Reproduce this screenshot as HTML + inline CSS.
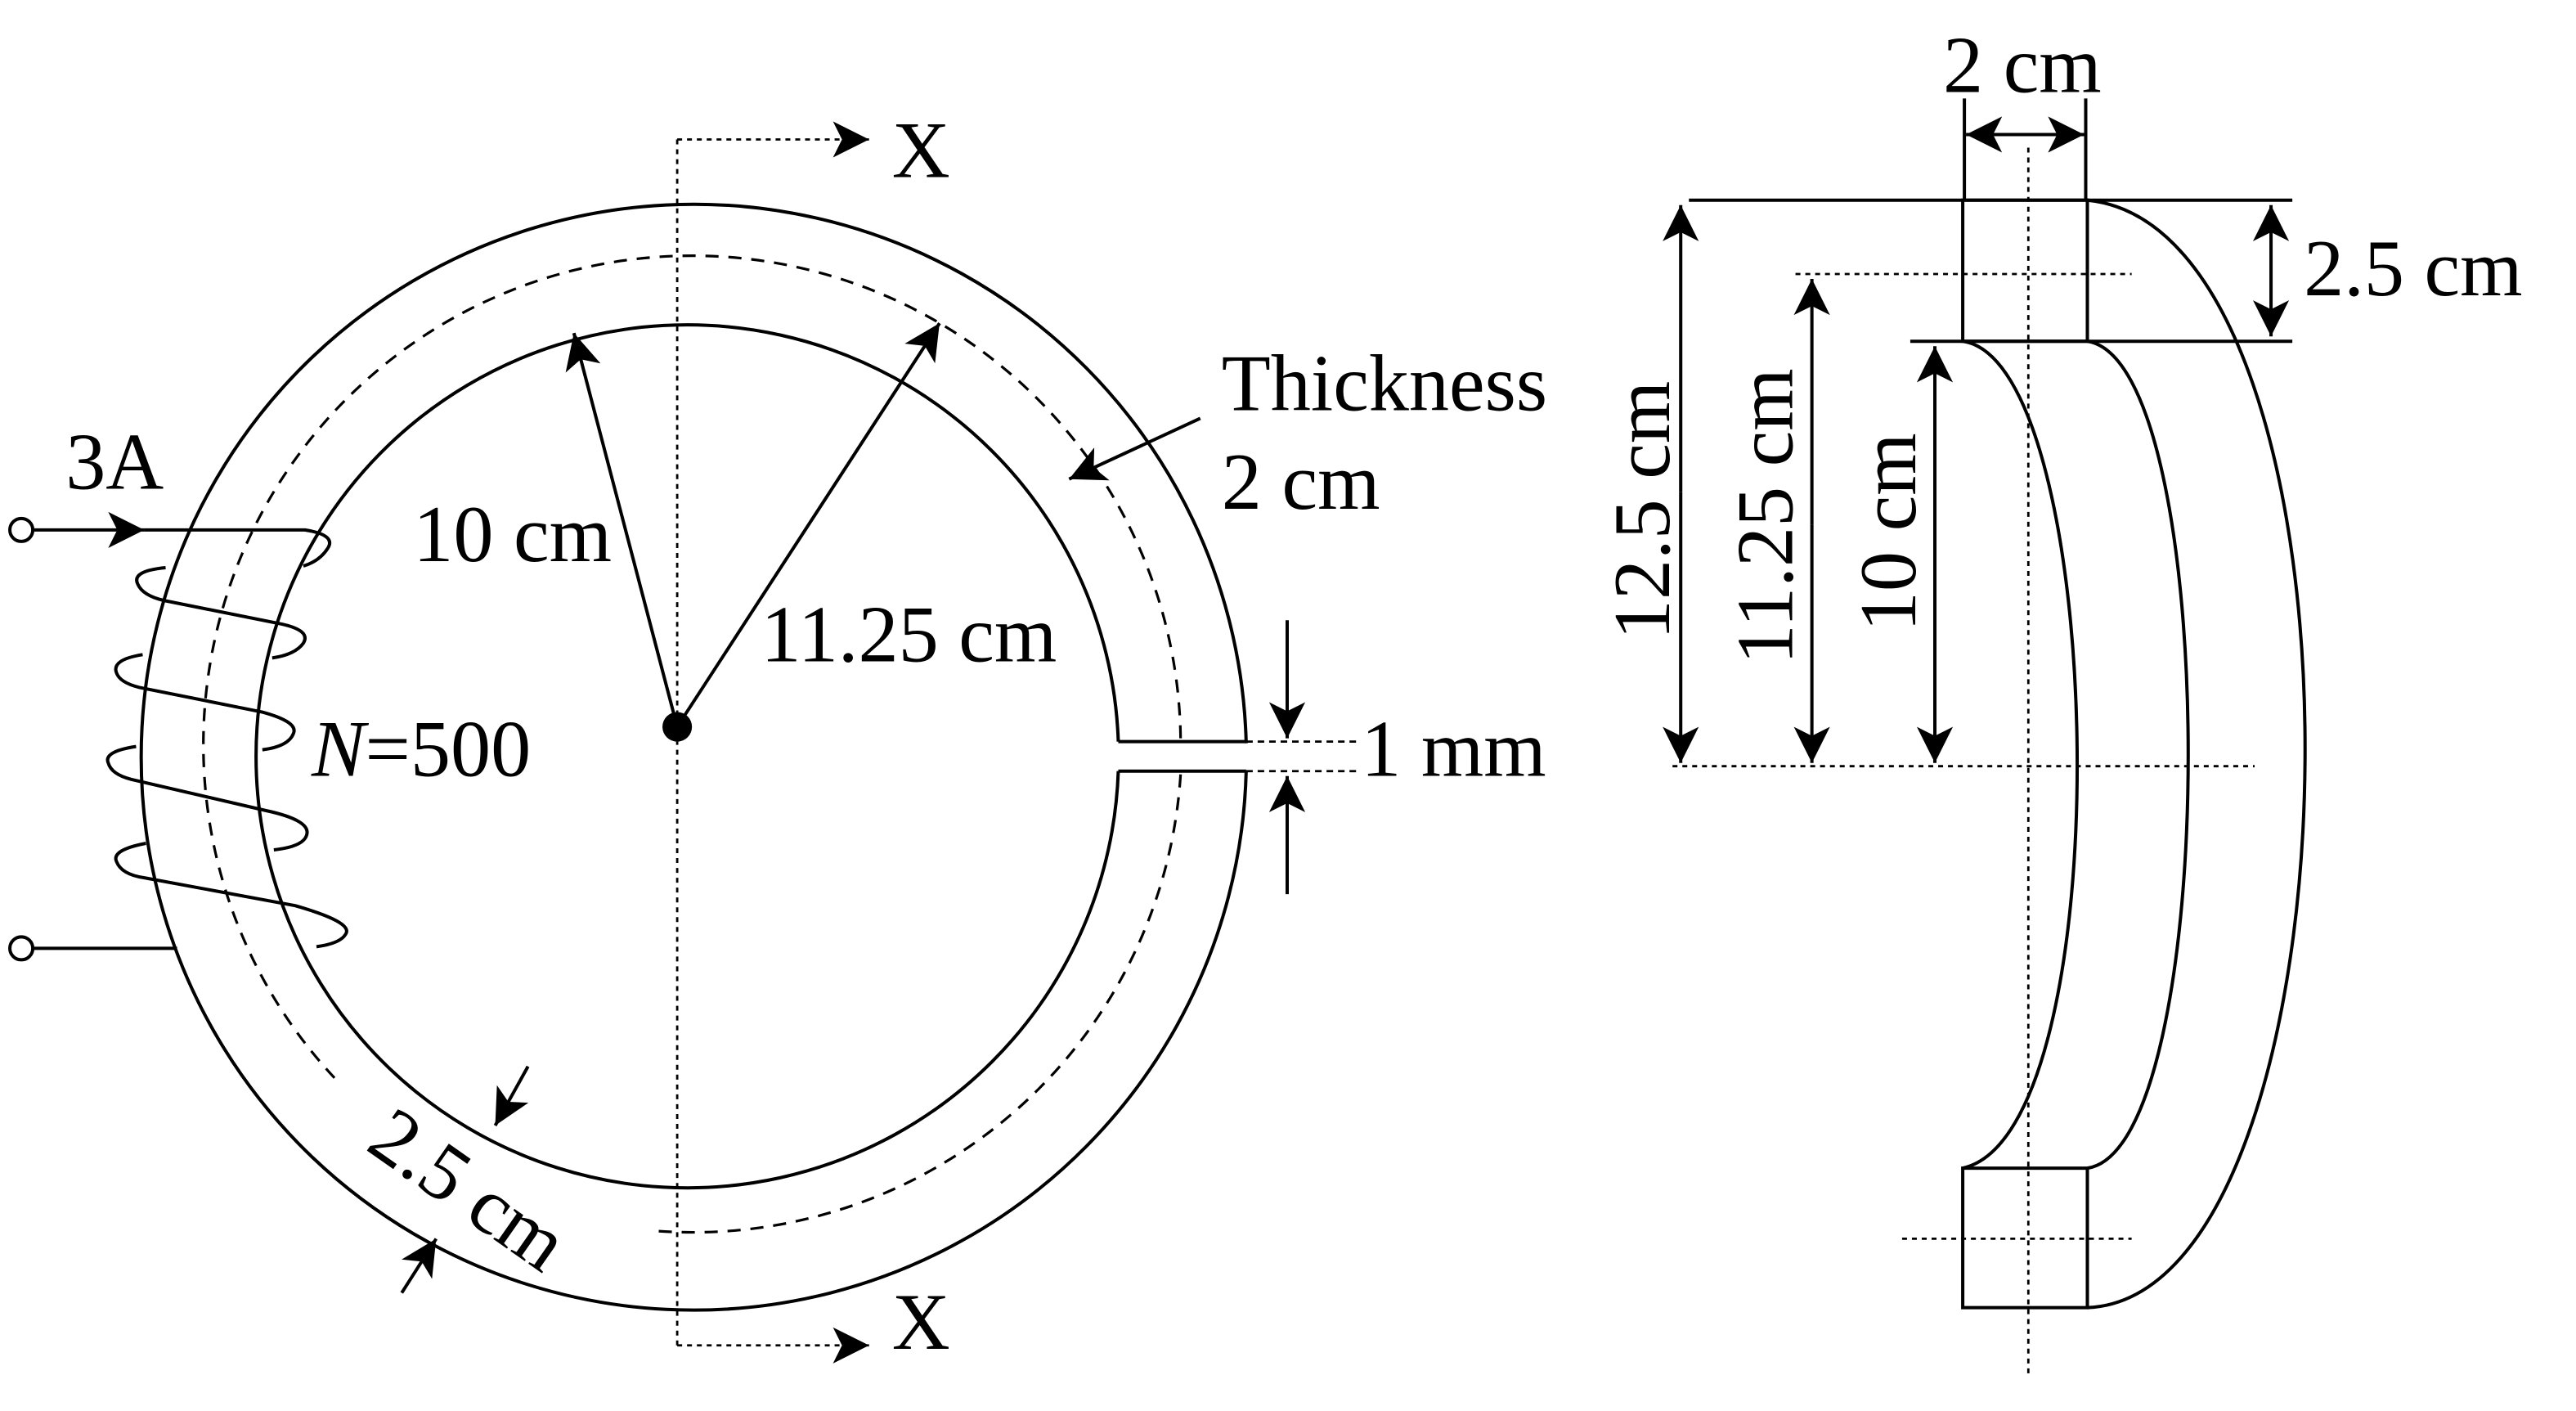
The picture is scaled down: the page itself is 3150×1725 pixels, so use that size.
<!DOCTYPE html>
<html><head><meta charset="utf-8"><style>
html,body{margin:0;padding:0;background:#fff}
svg{display:block}
text{font-family:"Liberation Serif",serif;fill:#000}
</style></head><body>
<svg width="3150" height="1725" viewBox="0 0 1571 860" preserveAspectRatio="none" xmlns="http://www.w3.org/2000/svg">
<defs>
<marker id="ah" viewBox="0 0 10 10" refX="10" refY="5" markerWidth="22" markerHeight="22" markerUnits="userSpaceOnUse" orient="auto-start-reverse"><path d="M0,0 L10,5 L0,10 L2.5,5 z" fill="#000"/></marker>
</defs>
<g fill="none" stroke="#000" stroke-width="2">
<path d="M760,453 A337,337 0 1 0 760,470" />
<path d="M682,452 A263,263 0 1 0 682,470" />
<line x1="682" y1="452" x2="760" y2="452"/><line x1="682" y1="470" x2="760" y2="470"/>
<path stroke-dasharray="8,6" stroke-width="1.6" d="M720,450 A298,298 0 1 0 204,657"/>
<path stroke-dasharray="8,6" stroke-width="1.6" d="M720,472 A298,298 0 0 1 397,750"/>
<line stroke-dasharray="3,3" stroke-width="1.4" x1="413" y1="85" x2="413" y2="820"/>
<polyline stroke-dasharray="3,3" stroke-width="1.4" points="413,85 530,85" marker-end="url(#ah)"/>
<polyline stroke-dasharray="3,3" stroke-width="1.4" points="413,820 530,820" marker-end="url(#ah)"/>
<line x1="413" y1="443" x2="350" y2="203" marker-end="url(#ah)"/>
<line x1="413" y1="443" x2="573" y2="197" marker-end="url(#ah)"/>
<line x1="732" y1="255" x2="652" y2="292" marker-end="url(#ah)"/>
<line x1="785" y1="378" x2="785" y2="450" marker-end="url(#ah)"/>
<line x1="785" y1="545" x2="785" y2="473" marker-end="url(#ah)"/>
<line stroke-dasharray="4,3" stroke-width="1.4" x1="760" y1="452" x2="828" y2="452"/>
<line stroke-dasharray="4,3" stroke-width="1.4" x1="760" y1="470" x2="828" y2="470"/>
<line x1="322" y1="650" x2="302" y2="686" marker-end="url(#ah)"/>
<line x1="245" y1="788" x2="266" y2="755" marker-end="url(#ah)"/>
<circle cx="13" cy="323" r="7" fill="#fff"/>
<line x1="20" y1="323" x2="88" y2="323" marker-end="url(#ah)"/>
<path d="M88,323 L186,323 Q205,326 200,334 Q195,342 185,345"/>
<circle cx="13" cy="578" r="7" fill="#fff"/>
<line x1="20" y1="578" x2="108" y2="578"/>
<path d="M101,346 Q80,348 84,356 Q87,363 100,366 L170,380 Q190,384 185,392 Q180,399 166,401 M87,399 Q68,402 71,410 Q73,416 85,419 L160,434 Q182,440 179,447 Q176,455 160,457 M83,455 Q63,458 66,465 Q68,472 80,475 L162,494 Q190,500 187,509 Q185,516 167,518 M89,514 Q68,518 71,525 Q74,533 88,535 L180,552 Q215,562 211,569 Q208,575 193,577"/>
<circle cx="413" cy="443" r="9" fill="#000" stroke="none"/>
</g>
<g fill="none" stroke="#000" stroke-width="2">
<line stroke-dasharray="3,3" stroke-width="1.4" x1="1237" y1="90" x2="1237" y2="840"/>
<rect x="1197" y="122" width="76" height="86"/>
<rect x="1197" y="712" width="76" height="85"/>
<line x1="1030" y1="122" x2="1273" y2="122"/>
<line x1="1165" y1="208" x2="1398" y2="208"/>
<line x1="1273" y1="122" x2="1398" y2="122"/>
<path d="M1273,122 C1455,140 1445,790 1273,797"/>
<path d="M1273,208 C1355,220 1355,700 1273,712"/>
<path d="M1197,208 C1285,220 1295,690 1197,712"/>
<line stroke-dasharray="3,3" stroke-width="1.4" x1="1095" y1="167" x2="1300" y2="167"/>
<line stroke-dasharray="3,3" stroke-width="1.4" x1="1020" y1="467" x2="1375" y2="467"/>
<line stroke-dasharray="3,3" stroke-width="1.4" x1="1160" y1="755" x2="1300" y2="755"/>
<line x1="1198" y1="60" x2="1198" y2="122"/>
<line x1="1272" y1="60" x2="1272" y2="122"/>
<line x1="1199" y1="82" x2="1271" y2="82" marker-end="url(#ah)" marker-start="url(#ah)"/>
<line x1="1385" y1="165" x2="1385" y2="125" marker-end="url(#ah)"/>
<line x1="1385" y1="165" x2="1385" y2="205" marker-end="url(#ah)"/>
<line x1="1025" y1="300" x2="1025" y2="125" marker-end="url(#ah)"/>
<line x1="1025" y1="300" x2="1025" y2="465" marker-end="url(#ah)"/>
<line x1="1105" y1="320" x2="1105" y2="170" marker-end="url(#ah)"/>
<line x1="1105" y1="320" x2="1105" y2="465" marker-end="url(#ah)"/>
<line x1="1180" y1="340" x2="1180" y2="211" marker-end="url(#ah)"/>
<line x1="1180" y1="340" x2="1180" y2="465" marker-end="url(#ah)"/>
</g>
<g font-size="49">
<text x="544" y="108">X</text>
<text x="544" y="822">X</text>
<text x="40" y="298">3A</text>
<text x="252" y="342">10 cm</text>
<text x="464" y="403">11.25 cm</text>
<text x="745" y="250">Thickness</text>
<text x="745" y="310">2 cm</text>
<text x="830" y="473">1 mm</text>
<text x="190" y="473"><tspan font-style="italic">N</tspan>=500</text>
<text x="0" y="0" transform="translate(222,700) rotate(35)">2.5 cm</text>
<text x="1185" y="56">2 cm</text>
<text x="1405" y="180">2.5 cm</text>
<text transform="translate(1018,390) rotate(-90)">12.5 cm</text>
<text transform="translate(1093,405) rotate(-90)">11.25 cm</text>
<text transform="translate(1168,385) rotate(-90)">10 cm</text>
</g>
</svg>
</body></html>
